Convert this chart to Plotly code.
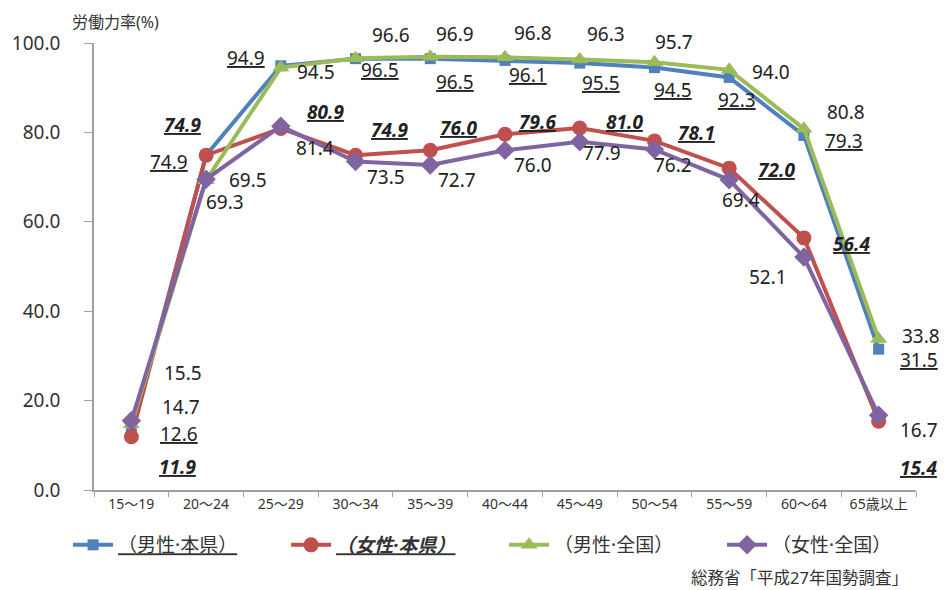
import plotly.graph_objects as go

categories = ["15〜19", "20〜24", "25〜29", "30〜34", "35〜39", "40〜44",
              "45〜49", "50〜54", "55〜59", "60〜64", "65歳以上"]

male_pref = [12.6, 74.9, 94.9, 96.5, 96.5, 96.1, 95.5, 94.5, 92.3, 79.3, 31.5]
female_pref = [11.9, 74.9, 80.9, 74.9, 76.0, 79.6, 81.0, 78.1, 72.0, 56.4, 15.4]
male_nat = [14.7, 69.3, 94.5, 96.6, 96.9, 96.8, 96.3, 95.7, 94.0, 80.8, 33.8]
female_nat = [15.5, 69.5, 81.4, 73.5, 72.7, 76.0, 77.9, 76.2, 69.4, 52.1, 16.7]

names = ["（男性·本県）", "（女性·本県）", "（男性·全国）", "（女性·全国）"]
y_ticks = [0, 20, 40, 60, 80, 100]

# label offsets in pixels (dx right, dy down)
off_male_pref = [(48, 0), (-37, 7), (-35, -8), (24, 11), (25, 23), (23, 15), (21, 20), (19, 22), (8, 23), (40, 5), (40, 11)]
off_female_pref = [(46, 30), (-24, -30), (45, -16), (34, -25), (28, -22), (32, -12), (45, -6), (42, -8), (47, 2), (48, 6), (40, 47)]
off_male_nat = [(50, -17), (19, 22), (35, 4), (35, -23), (25, -23), (28, -24), (26, -26), (20, -20), (42, 2), (42, -17), (42, -3)]
off_female_nat = [(52, -48), (42, 1), (34, 22), (30, 16), (27, 15), (28, 15), (22, 11), (19, 16), (12, 20), (-36, 20), (40, 15)]

FONT = "Noto Sans, Noto Sans CJK JP, sans-serif"
TXT = "#333333"

series = [
    (male_pref, "#4F81BD", "square", 11, off_male_pref, "u"),
    (female_pref, "#C0504D", "circle", 15, off_female_pref, "bui"),
    (male_nat, "#9BBB59", "triangle-up", 15, off_male_nat, ""),
    (female_nat, "#8064A2", "diamond", 15, off_female_nat, ""),
]

fig = go.Figure()
annotations = []
for (vals, color, sym, msize, offs, style), name in zip(series, names):
    if style == "u":
        lname = "<u>" + name + "</u>"
    elif style == "bui":
        lname = "<b><i><u>" + name + "</u></i></b>"
    else:
        lname = name
    fig.add_trace(go.Scatter(
        x=categories, y=vals, name=lname, mode="lines+markers",
        line=dict(color=color, width=4),
        marker=dict(color=color, symbol=sym, size=msize),
    ))
    for c, v, (dx, dy) in zip(categories, vals, offs):
        t = f"{v:.1f}"
        if style == "u":
            t = "<u>" + t + "</u>"
        elif style == "bui":
            t = "<b><i><u>" + t + "</u></i></b>"
        annotations.append(dict(
            x=c, y=v, xref="x", yref="y", text=t, showarrow=False,
            xshift=dx, yshift=-dy, font=dict(size=19, color="#222222", family=FONT),
        ))

annotations.append(dict(
    x=68, y=22, xref="paper", yref="paper", text="労働力率(%)", showarrow=False,
    xanchor="left", yanchor="middle", font=dict(size=16, color=TXT, family=FONT),
))
annotations.append(dict(
    x=910, y=577, xref="paper", yref="paper", text="総務省「平成27年国勢調査」", showarrow=False,
    xanchor="right", yanchor="middle", font=dict(size=16.5, color=TXT, family=FONT),
))

# convert pixel positions for the two text annotations to paper coords
L, R, T, B = 92, 29, 43, 100
W, H = 945, 590
pw, ph = W - L - R, H - T - B
for a in annotations[-2:]:
    a["x"] = (a["x"] - L) / pw
    a["y"] = (H - B - a["y"]) / ph

fig.update_layout(
    width=W, height=H,
    margin=dict(l=L, r=R, t=T, b=B),
    paper_bgcolor="white", plot_bgcolor="white",
    font=dict(family=FONT, color=TXT),
    showlegend=True,
    legend=dict(
        orientation="h", x=(66 - L) / pw, xanchor="left",
        y=(H - B - 545) / ph, yanchor="middle",
        font=dict(size=19, color=TXT, family=FONT),
        entrywidth=163, entrywidthmode="pixels", itemwidth=40,
        bgcolor="rgba(0,0,0,0)",
    ),
    annotations=annotations,
    xaxis=dict(
        type="category", range=[-0.5, 10.5],
        showline=True, linecolor="#A0A0A0", linewidth=1.5,
        ticks="outside", tickson="boundaries", ticklen=5, tickcolor="#A0A0A0",
        showgrid=False, zeroline=False,
        tickfont=dict(size=14, color=TXT, family=FONT),
    ),
    yaxis=dict(
        range=[0, 100], tickvals=y_ticks, ticktext=[f"{v:.1f}" for v in y_ticks],
        showline=True, linecolor="#A0A0A0", linewidth=1.5,
        ticks="outside", ticklen=8, tickcolor="#A0A0A0",
        showgrid=False, zeroline=False, ticklabelstandoff=20,
        tickfont=dict(size=19, color=TXT, family=FONT),
    ),
)

fig.write_html("out.html")
